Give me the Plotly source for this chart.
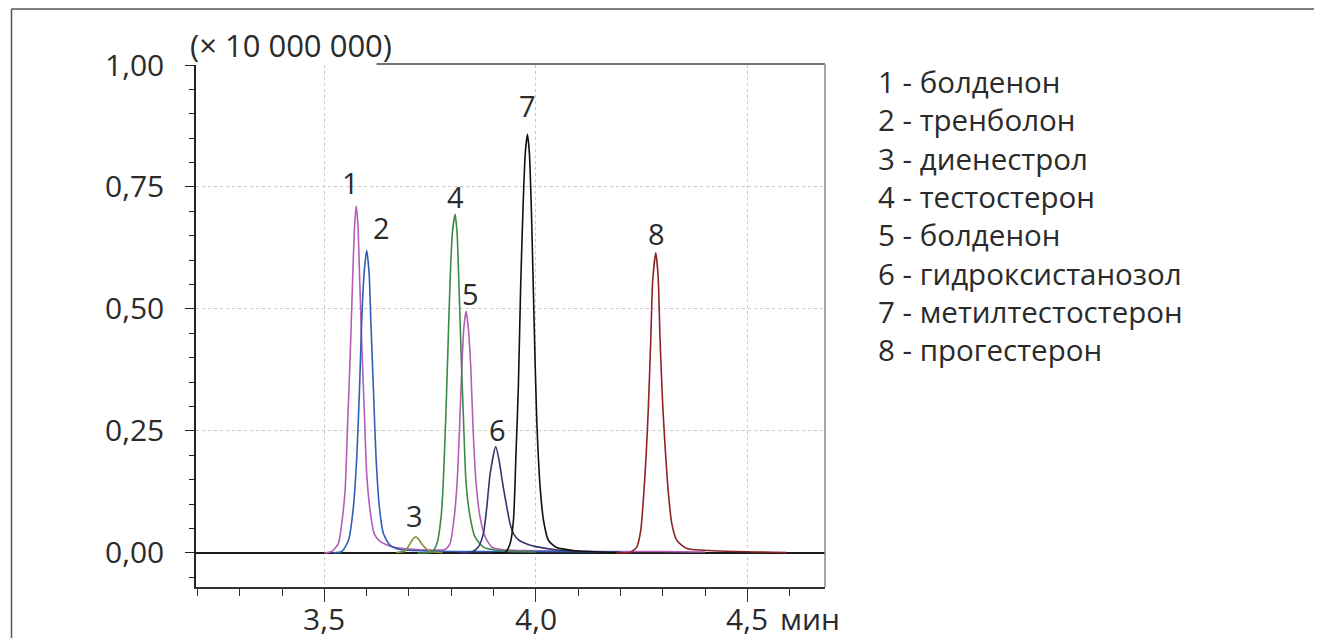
import plotly.graph_objects as go

# ---------------- data ----------------
# retention time (min) / intensity (x 10 000 000) for each ion trace
boldenone_t = [3.50, 3.5175, 3.533, 3.541, 3.549, 3.555, 3.561, 3.566, 3.571, 3.575,
               3.579, 3.583, 3.588, 3.594, 3.600, 3.608, 3.6175, 3.632, 3.663, 3.70,
               3.75, 3.785, 3.797, 3.807, 3.8137, 3.819, 3.825, 3.830, 3.835, 3.840,
               3.846, 3.852, 3.8586, 3.868, 3.880, 3.8957, 3.92, 3.97, 4.05, 4.15,
               4.30, 4.40]
boldenone_y = [0.0, 0.003, 0.019, 0.060, 0.129, 0.266, 0.403, 0.540, 0.663, 0.711,
               0.677, 0.574, 0.437, 0.300, 0.163, 0.088, 0.040, 0.023, 0.012, 0.008,
               0.006, 0.007, 0.019, 0.074, 0.143, 0.245, 0.382, 0.464, 0.495, 0.464,
               0.382, 0.245, 0.143, 0.074, 0.033, 0.012, 0.007, 0.005, 0.004, 0.003,
               0.003, 0.002]

trenbolone_t = [3.52, 3.541, 3.557, 3.5686, 3.5766, 3.583, 3.588, 3.594, 3.600, 3.6057,
                3.610, 3.616, 3.622, 3.630, 3.6395, 3.655, 3.679, 3.75, 3.85, 3.95,
                4.05, 4.20]
trenbolone_y = [0.0, 0.003, 0.026, 0.094, 0.197, 0.334, 0.471, 0.574, 0.620, 0.574,
                0.471, 0.334, 0.197, 0.094, 0.040, 0.016, 0.007, 0.004, 0.003, 0.003,
                0.003, 0.002]

dienestrol_t = [3.67, 3.691, 3.7026, 3.709, 3.716, 3.723, 3.730, 3.746, 3.758, 3.78]
dienestrol_y = [0.001, 0.004, 0.019, 0.028, 0.033, 0.028, 0.019, 0.005, 0.002, 0.001]

testosterone_t = [3.72, 3.754, 3.766, 3.776, 3.781, 3.787, 3.792, 3.797, 3.8026, 3.809,
                  3.8137, 3.818, 3.823, 3.8286, 3.835, 3.8445, 3.856, 3.876, 3.9035,
                  3.95, 4.0]
testosterone_y = [0.0, 0.002, 0.019, 0.074, 0.143, 0.279, 0.416, 0.553, 0.656, 0.694,
                  0.656, 0.553, 0.416, 0.279, 0.143, 0.074, 0.033, 0.012, 0.006,
                  0.003, 0.002]

hydroxystanozolol_t = [3.82, 3.8485, 3.864, 3.876, 3.884, 3.892, 3.905, 3.913, 3.921,
                       3.930, 3.939, 3.948, 3.96, 3.98, 4.00, 4.05, 4.10]
hydroxystanozolol_y = [0.0, 0.002, 0.012, 0.040, 0.094, 0.163, 0.218, 0.190, 0.145,
                       0.100, 0.060, 0.038, 0.026, 0.018, 0.013, 0.006, 0.003]

methyltestosterone_t = [3.90, 3.927, 3.939, 3.947, 3.953, 3.9586, 3.964, 3.970, 3.975,
                        3.980, 3.9846, 3.990, 3.9957, 4.002, 4.010, 4.018, 4.0296,
                        4.049, 4.0887, 4.152, 4.20]
methyltestosterone_y = [0.0, 0.001, 0.019, 0.067, 0.204, 0.341, 0.546, 0.718, 0.820,
                        0.858, 0.820, 0.683, 0.478, 0.273, 0.136, 0.067, 0.026,
                        0.011, 0.005, 0.002, 0.001]

progesterone_t = [4.19, 4.2227, 4.2385, 4.248, 4.254, 4.2605, 4.266, 4.2716, 4.2763,
                  4.2835, 4.289, 4.2936, 4.300, 4.307, 4.3133, 4.3213, 4.333, 4.357,
                  4.435, 4.593]
progesterone_y = [0.0, 0.001, 0.012, 0.047, 0.108, 0.197, 0.300, 0.437, 0.560,
                  0.615, 0.567, 0.437, 0.300, 0.197, 0.122, 0.060, 0.026, 0.009,
                  0.004, 0.001]

# peak numbers and apex positions
peak_labels = ["1", "2", "3", "4", "5", "6", "7", "8"]
peak_rt = [3.575, 3.600, 3.716, 3.809, 3.835, 3.905, 3.980, 4.2835]
peak_height = [0.711, 0.620, 0.033, 0.694, 0.495, 0.218, 0.858, 0.615]

legend_labels = ["1 - болденон", "2 - тренболон", "3 - диенестрол", "4 - тестостерон",
                 "5 - болденон", "6 - гидроксистанозол", "7 - метилтестостерон",
                 "8 - прогестерон"]

y_tick_vals = [0.0, 0.25, 0.50, 0.75, 1.00]
x_tick_vals = [3.5, 4.0, 4.5]
x_tick_text = ["3,5", "4,0", "4,5"]
y_multiplier = "(× 10 000 000)"
x_unit = "мин"

# ---------------- styling ----------------
OFF = 8                      # page body margin of the browser
W, H = 1322 - OFF, 638 - OFF
# plot area in page pixels: x 196..825, y 65..587
ML, MT = 196 - OFF, 65 - OFF
MR = (1322 - OFF) - (825 - OFF)
MB = (638 - OFF) - (587 - OFF)
PW, PH = W - ML - MR, H - MT - MB
FONT = "Open Sans"
TXT = "#2b2b2b"


def px_x(px):
    """page pixel x -> paper coordinate"""
    return (px - OFF - ML) / PW


def px_y(py):
    """page pixel y -> paper coordinate"""
    return (H - MB - (py - OFF)) / PH


traces = [
    (boldenone_t, boldenone_y, "#b45db8"),
    (trenbolone_t, trenbolone_y, "#2f5fb3"),
    (dienestrol_t, dienestrol_y, "#8c8a35"),
    (testosterone_t, testosterone_y, "#3c8a45"),
    (hydroxystanozolol_t, hydroxystanozolol_y, "#34356f"),
    (methyltestosterone_t, methyltestosterone_y, "#111111"),
    (progesterone_t, progesterone_y, "#8e2226"),
]

fig = go.Figure()
for t, y, c in traces:
    fig.add_trace(go.Scatter(x=t, y=y, mode="lines",
                             line=dict(color=c, width=1.6, shape="spline", smoothing=0.6),
                             hoverinfo="skip", showlegend=False))

# peak number labels (pixel offsets from apex)
label_shift = {"1": (-6, 24), "2": (15, 23), "3": (-1, 21), "4": (0, 18),
               "5": (4, 18), "6": (2, 17), "7": (0, 29), "8": (1, 19)}
for lab, rt, h in zip(peak_labels, peak_rt, peak_height):
    dx, dy = label_shift[lab]
    fig.add_annotation(x=rt, y=h, text=lab, showarrow=False, xshift=dx, yshift=dy,
                       xanchor="center", yanchor="middle",
                       font=dict(family=FONT, size=29, color=TXT))

# legend text block on the right
for i, lab in enumerate(legend_labels):
    fig.add_annotation(xref="paper", yref="paper", x=px_x(876), y=px_y(81.5 + 38.35 * i),
                       text=lab, showarrow=False, xanchor="left", yanchor="middle",
                       font=dict(family=FONT, size=29.5, color=TXT))

# y multiplier
fig.add_annotation(xref="paper", yref="paper", x=px_x(188), y=px_y(45), text=y_multiplier,
                   showarrow=False, xanchor="left", yanchor="middle",
                   font=dict(family=FONT, size=31, color=TXT))

# x tick labels drawn as annotations just under the tick marks
for v, txt in zip(x_tick_vals, x_tick_text):
    fig.add_annotation(xref="x", yref="paper", x=v, y=px_y(618), text=txt,
                       showarrow=False, xanchor="center", yanchor="middle",
                       font=dict(family=FONT, size=30, color=TXT))
# x unit
fig.add_annotation(xref="x", yref="paper", x=x_tick_vals[-1], xshift=31, y=px_y(618),
                   text=x_unit, showarrow=False, xanchor="left", yanchor="middle",
                   font=dict(family=FONT, size=30, color=TXT))

shapes = [
    # outer frame (top and left)
    dict(type="line", xref="paper", yref="paper", x0=px_x(11.5), x1=px_x(1330),
         y0=px_y(9), y1=px_y(9), line=dict(color="#555555", width=1.5)),
    dict(type="line", xref="paper", yref="paper", x0=px_x(11.5), x1=px_x(11.5),
         y0=px_y(9), y1=px_y(645), line=dict(color="#555555", width=1.5)),
    # plot box top (partial) and right
    dict(type="line", xref="paper", yref="paper", x0=px_x(376.5), x1=1.0,
         y0=px_y(64), y1=px_y(64), line=dict(color="#444444", width=1.5)),
    dict(type="line", xref="paper", yref="paper", x0=1.0, x1=1.0,
         y0=0, y1=px_y(64), line=dict(color="#8a8a8a", width=1.5)),
]

fig.update_layout(
    width=W, height=H,
    margin=dict(l=ML, r=MR, t=MT, b=MB, pad=0, autoexpand=False),
    paper_bgcolor="white", plot_bgcolor="white",
    separators=", ",
    shapes=shapes,
    font=dict(family=FONT, color=TXT),
    xaxis=dict(range=[3.1965, 4.6835], tickmode="array", tickvals=x_tick_vals,
               showticklabels=False, ticks="outside", ticklen=13, tickwidth=1.3,
               tickcolor="#333333", showline=True, linecolor="#333333", linewidth=1.5,
               showgrid=True, gridcolor="#c9c9c9", griddash="dot", gridwidth=1,
               zeroline=False, automargin=False,
               minor=dict(tickmode="linear", tick0=3.0, dtick=0.1, ticks="outside",
                          ticklen=7, tickwidth=1.3, tickcolor="#333333", showgrid=False)),
    yaxis=dict(range=[-0.0698, 1.0], tickmode="array", tickvals=y_tick_vals,
               tickformat=".2f", ticks="outside", ticklen=9, tickwidth=1.3,
               tickcolor="#222222", showline=True, linecolor="#222222", linewidth=1.5,
               showgrid=True, gridcolor="#c9c9c9", griddash="dot", gridwidth=1,
               zeroline=True, zerolinecolor="#1a1a1a", zerolinewidth=2.2,
               ticklabelstandoff=15, automargin=False,
               tickfont=dict(family=FONT, size=30, color=TXT),
               minor=dict(tickmode="linear", tick0=0.0, dtick=0.05, ticks="outside",
                          ticklen=5, tickwidth=1.3, tickcolor="#222222", showgrid=False)),
)

fig.write_html("out.html")
